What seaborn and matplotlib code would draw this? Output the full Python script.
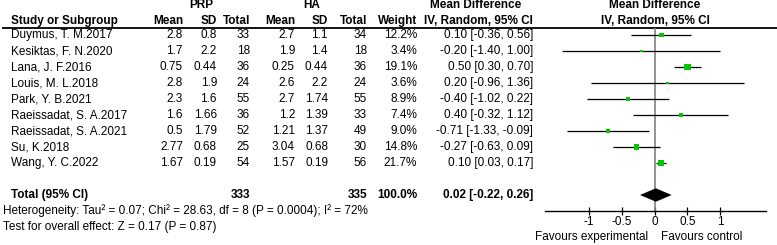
import matplotlib
matplotlib.use('Agg')
import numpy as np
import pandas as pd
import seaborn as sns
import matplotlib.pyplot as plt

# data
studies = ['Duymus, T. M.2017', 'Kesiktas, F. N.2020', 'Lana, J. F.2016', 'Louis, M. L.2018',
           'Park, Y. B.2021', 'Raeissadat, S. A.2017', 'Raeissadat, S. A.2021', 'Su, K.2018',
           'Wang, Y. C.2022']
prp_mean = ['2.8', '1.7', '0.75', '2.8', '2.3', '1.6', '0.5', '2.77', '1.67']
prp_sd = ['0.8', '2.2', '0.44', '1.9', '1.6', '1.66', '1.79', '0.68', '0.19']
prp_n = [33, 18, 36, 24, 55, 36, 52, 25, 54]
ha_mean = ['2.7', '1.9', '0.25', '2.6', '2.7', '1.2', '1.21', '3.04', '1.57']
ha_sd = ['1.1', '1.4', '0.44', '2.2', '1.74', '1.39', '1.37', '0.68', '0.19']
ha_n = [34, 18, 36, 24, 55, 33, 49, 30, 56]
weight = [12.2, 3.4, 19.1, 3.6, 8.9, 7.4, 9.0, 14.8, 21.7]
md = [0.10, -0.20, 0.50, 0.20, -0.40, 0.40, -0.71, -0.27, 0.10]
lo = [-0.36, -1.40, 0.30, -0.96, -1.02, -0.32, -1.33, -0.63, 0.03]
hi = [0.56, 1.00, 0.70, 1.36, 0.22, 1.12, -0.09, 0.09, 0.17]
total_prp, total_ha, total_weight = 333, 335, '100.0%'
total_md, total_lo, total_hi = 0.02, -0.22, 0.26
heterogeneity = 'Heterogeneity: Tau\u00b2 = 0.07; Chi\u00b2 = 28.63, df = 8 (P = 0.0004); I\u00b2 = 72%'
overall = 'Test for overall effect: Z = 0.17 (P = 0.87)'
ticks = [-1, -0.5, 0, 0.5, 1]
tick_labels = ['-1', '-0.5', '0', '0.5', '1']

df = pd.DataFrame({'study': studies, 'md': md, 'lo': lo, 'hi': hi, 'weight': weight})
df['row'] = np.arange(len(df))
total_row = len(df) + 1

sns.set_theme(style='white')
plt.rcParams['font.family'] = ['Liberation Sans', 'DejaVu Sans']
FS = 8.5

W, H = 777, 245
fig = plt.figure(figsize=(W / 100, H / 100), dpi=100)

# table layer over whole figure, x in px, y in row units (first row at 35 px, 16 px per row)
tab = fig.add_axes([0, 0, 1, 1])
tab.set_xlim(0, W)
tab.set_ylim((H - 35) / 16, -35 / 16)
tab.axis('off')

txt = dict(fontsize=FS, color='black', va='center')
bold = dict(txt, fontweight='bold')

tab.text(201, -1.88, 'PRP', ha='center', **bold)
tab.text(312, -1.88, 'HA', ha='center', **bold)
tab.text(476, -1.88, 'Mean Difference', ha='center', **bold)
tab.text(655, -1.88, 'Mean Difference', ha='center', **bold)
tab.text(11, -0.88, 'Study or Subgroup', ha='left', **bold)
for x, s in [(183, 'Mean'), (217, 'SD'), (250, 'Total'), (295, 'Mean'), (328, 'SD'),
             (367, 'Total'), (417, 'Weight'), (533, 'IV, Random, 95% CI')]:
    tab.text(x, -0.88, s, ha='right', **bold)
tab.text(655, -0.88, 'IV, Random, 95% CI', ha='center', **bold)
tab.plot([2, W], [-0.44, -0.44], color='black', lw=1.3, solid_capstyle='butt')

for i in range(len(df)):
    tab.text(11, i, studies[i], ha='left', **txt)
    tab.text(183, i, prp_mean[i], ha='right', **txt)
    tab.text(217, i, prp_sd[i], ha='right', **txt)
    tab.text(250, i, str(prp_n[i]), ha='right', **txt)
    tab.text(295, i, ha_mean[i], ha='right', **txt)
    tab.text(328, i, ha_sd[i], ha='right', **txt)
    tab.text(367, i, str(ha_n[i]), ha='right', **txt)
    tab.text(417, i, f'{weight[i]:.1f}%', ha='right', **txt)
    tab.text(533, i, f'{md[i]:.2f} [{lo[i]:.2f}, {hi[i]:.2f}]', ha='right', **txt)

tab.text(11, total_row, 'Total (95% CI)', ha='left', **bold)
tab.text(250, total_row, str(total_prp), ha='right', **bold)
tab.text(367, total_row, str(total_ha), ha='right', **bold)
tab.text(417, total_row, total_weight, ha='right', **bold)
tab.text(533, total_row, f'{total_md:.2f} [{total_lo:.2f}, {total_hi:.2f}]', ha='right', **bold)
tab.text(3, total_row + 1, heterogeneity, ha='left', **txt)
tab.text(3, total_row + 2, overall, ha='left', **txt)

# forest panel
x0, x1 = 545, 766
top_px, bot_px = 28, 210.5
ax = fig.add_axes([x0 / W, 1 - bot_px / H, (x1 - x0) / W, (bot_px - top_px) / H])
ax.set_xlim(-1.66, 1.69)
ax.set_ylim((bot_px - 35) / 16, (top_px - 35) / 16)
ax.patch.set_alpha(0)

ax.axvline(0, color='#808080', lw=1.2, zorder=1)
ax.hlines(df['row'], df['lo'], df['hi'], color='black', lw=0.9, zorder=2)
sns.scatterplot(data=df, x='md', y='row', size='weight', sizes=(3.5, 22),
                size_norm=(min(weight), max(weight)), marker='s', color='#00c800',
                edgecolor='none', legend=False, ax=ax, zorder=3)
ax.fill([total_lo, total_md, total_hi, total_md],
        [total_row, total_row - 0.42, total_row, total_row + 0.42],
        color='black', lw=0, zorder=4)

for side in ['top', 'left', 'right']:
    ax.spines[side].set_visible(False)
ax.spines['bottom'].set_color('black')
ax.spines['bottom'].set_linewidth(1.0)
ax.set_yticks([])
ax.set_xticks(ticks)
ax.set_xticklabels(tick_labels)
ax.tick_params(axis='x', direction='inout', length=6, width=0.9, color='black',
               labelsize=FS, labelcolor='black', pad=1, bottom=True)
ax.set_xlabel('')
ax.set_ylabel('')

zero_px = x0 + (0 - (-1.66)) / 3.35 * (x1 - x0)
tab.text(zero_px - 6, (237 - 35) / 16, 'Favours experimental', ha='right', **txt)
tab.text(zero_px + 6, (237 - 35) / 16, 'Favours control', ha='left', **txt)

fig.savefig('out.png', dpi=100)
